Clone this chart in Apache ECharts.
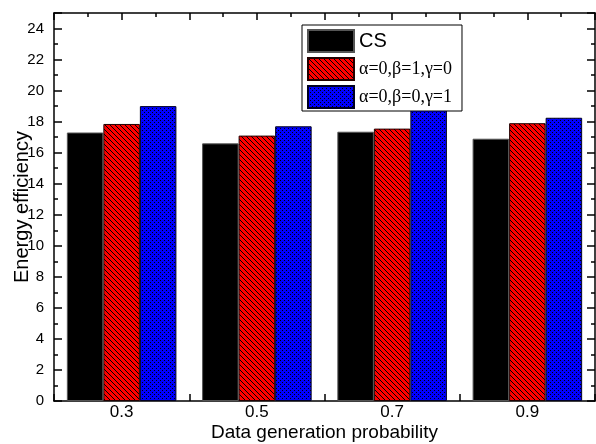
<!DOCTYPE html>
<html><head><meta charset="utf-8">
<script src="https://cdn.jsdelivr.net/npm/echarts@6/dist/echarts.min.js"></script>
<style>html,body{margin:0;padding:0;background:#fff;overflow:hidden}#c{width:596px;height:444px}</style>
</head><body><div id="c"></div>
<script>
var categories = ['0.3', '0.5', '0.7', '0.9'];
var csValues = [17.3, 16.6, 17.35, 16.9];
var b1Values = [17.85, 17.1, 17.55, 17.9];
var g1Values = [19.0, 17.7, 18.75, 18.25];
var seriesNames = ['CS', 'α=0,β=1,γ=0', 'α=0,β=0,γ=1'];
var yTicks = {min: 0, max: 25, interval: 2};
var xTickScale = {min: 2, max: 10, interval: 1};

function makeTile(size, bg, fn) {
  var c = document.createElement('canvas');
  c.width = size; c.height = size;
  var ctx = c.getContext('2d');
  var img = ctx.createImageData(size, size);
  for (var y = 0; y < size; y++) for (var x = 0; x < size; x++) {
    var i = (y * size + x) * 4;
    var col = fn(x, y) ? [0, 0, 0] : bg;
    img.data[i] = col[0]; img.data[i+1] = col[1]; img.data[i+2] = col[2]; img.data[i+3] = 255;
  }
  ctx.putImageData(img, 0, 0);
  return c;
}
var redTile = makeTile(10, [255, 0, 0], function (x, y) { return ((x - y) % 5 + 5) % 5 === 0; });
var blueTile = makeTile(8, [0, 0, 255], function (x, y) {
  var a = ((x - y) % 4 + 4) % 4 === 0, b = (x + y) % 4 === 0;
  return (a || b) && x % 2 === 0 || (a && b);
});

var chart = echarts.init(document.getElementById('c'), null, {renderer: 'canvas'});
var axisLine = {show: true, lineStyle: {color: '#000', width: 1.5}};
var tickStyle = {color: '#000', width: 1.5};
var option = {
  animation: false,
  grid: {left: 54, right: 1, top: 13, bottom: 43, containLabel: false, outerBoundsMode: 'none'},
  legend: {
    orient: 'vertical', left: 302, top: 25, icon: 'rect',
    padding: [4, 10, 2, 5], itemGap: 4, itemWidth: 46, itemHeight: 22,
    borderColor: '#000', borderWidth: 1, backgroundColor: '#fff',
    data: [
      {name: seriesNames[0], textStyle: {fontFamily: 'Liberation Sans', fontSize: 20, color: '#000'}},
      {name: seriesNames[1], textStyle: {fontFamily: 'Liberation Serif', fontSize: 18, color: '#000'}},
      {name: seriesNames[2], textStyle: {fontFamily: 'Liberation Serif', fontSize: 18, color: '#000'}}
    ]
  },
  xAxis: [{
    type: 'category', data: categories, position: 'bottom', boundaryGap: true,
    axisLine: {show: false}, axisTick: {show: false},
    axisLabel: {fontFamily: 'Liberation Sans', fontSize: 17, color: '#000', margin: 3},
    name: 'Data generation probability', nameLocation: 'middle', nameGap: 22, nameMoveOverlap: false,
    nameTextStyle: {fontFamily: 'Liberation Sans', fontSize: 19, color: '#000'},
    splitLine: {show: false}
  }, {
    type: 'value', position: 'bottom', min: xTickScale.min, max: xTickScale.max, interval: xTickScale.interval,
    axisLine: axisLine,
    axisTick: {show: true, inside: true, length: 7, lineStyle: tickStyle},
    minorTick: {show: true, splitNumber: 2, length: 4, lineStyle: tickStyle},
    axisLabel: {show: false}, splitLine: {show: false}
  }, {
    type: 'value', position: 'top', min: xTickScale.min, max: xTickScale.max, interval: xTickScale.interval,
    axisLine: axisLine,
    axisTick: {show: true, inside: true, length: 7, lineStyle: tickStyle},
    minorTick: {show: true, splitNumber: 2, length: 4, lineStyle: tickStyle},
    axisLabel: {show: false}, splitLine: {show: false}
  }],
  yAxis: [{
    type: 'value', position: 'left', min: yTicks.min, max: yTicks.max, interval: yTicks.interval,
    axisLine: axisLine,
    axisTick: {show: true, inside: true, length: 8, lineStyle: tickStyle},
    minorTick: {show: true, splitNumber: 2, length: 4, lineStyle: tickStyle},
    axisLabel: {fontFamily: 'Liberation Sans', fontSize: 15, color: '#000', margin: 10, showMaxLabel: false},
    splitLine: {show: false},
    name: 'Energy efficiency', nameLocation: 'middle', nameGap: 22, nameRotate: 90, nameMoveOverlap: false,
    nameTextStyle: {fontFamily: 'Liberation Sans', fontSize: 20, color: '#000'}
  }, {
    type: 'value', position: 'right', min: yTicks.min, max: yTicks.max, interval: yTicks.interval,
    axisLine: axisLine,
    axisTick: {show: true, inside: true, length: 8, lineStyle: tickStyle},
    minorTick: {show: true, splitNumber: 2, length: 4, lineStyle: tickStyle},
    axisLabel: {show: false}, splitLine: {show: false}
  }],
  series: [
    {name: seriesNames[0], type: 'bar', data: csValues, xAxisIndex: 0, yAxisIndex: 0,
     barGap: '0%', barCategoryGap: '19%',
     itemStyle: {color: '#000', borderColor: '#555', borderWidth: 1}},
    {name: seriesNames[1], type: 'bar', data: b1Values, xAxisIndex: 0, yAxisIndex: 0,
     barGap: '0%', barCategoryGap: '19%',
     itemStyle: {color: {image: redTile, repeat: 'repeat'}, borderColor: '#200', borderWidth: 1}},
    {name: seriesNames[2], type: 'bar', data: g1Values, xAxisIndex: 0, yAxisIndex: 0,
     barGap: '0%', barCategoryGap: '19%',
     itemStyle: {color: {image: blueTile, repeat: 'repeat'}, borderColor: '#002', borderWidth: 1}}
  ]
};
chart.setOption(option);
</script>
</body></html>
